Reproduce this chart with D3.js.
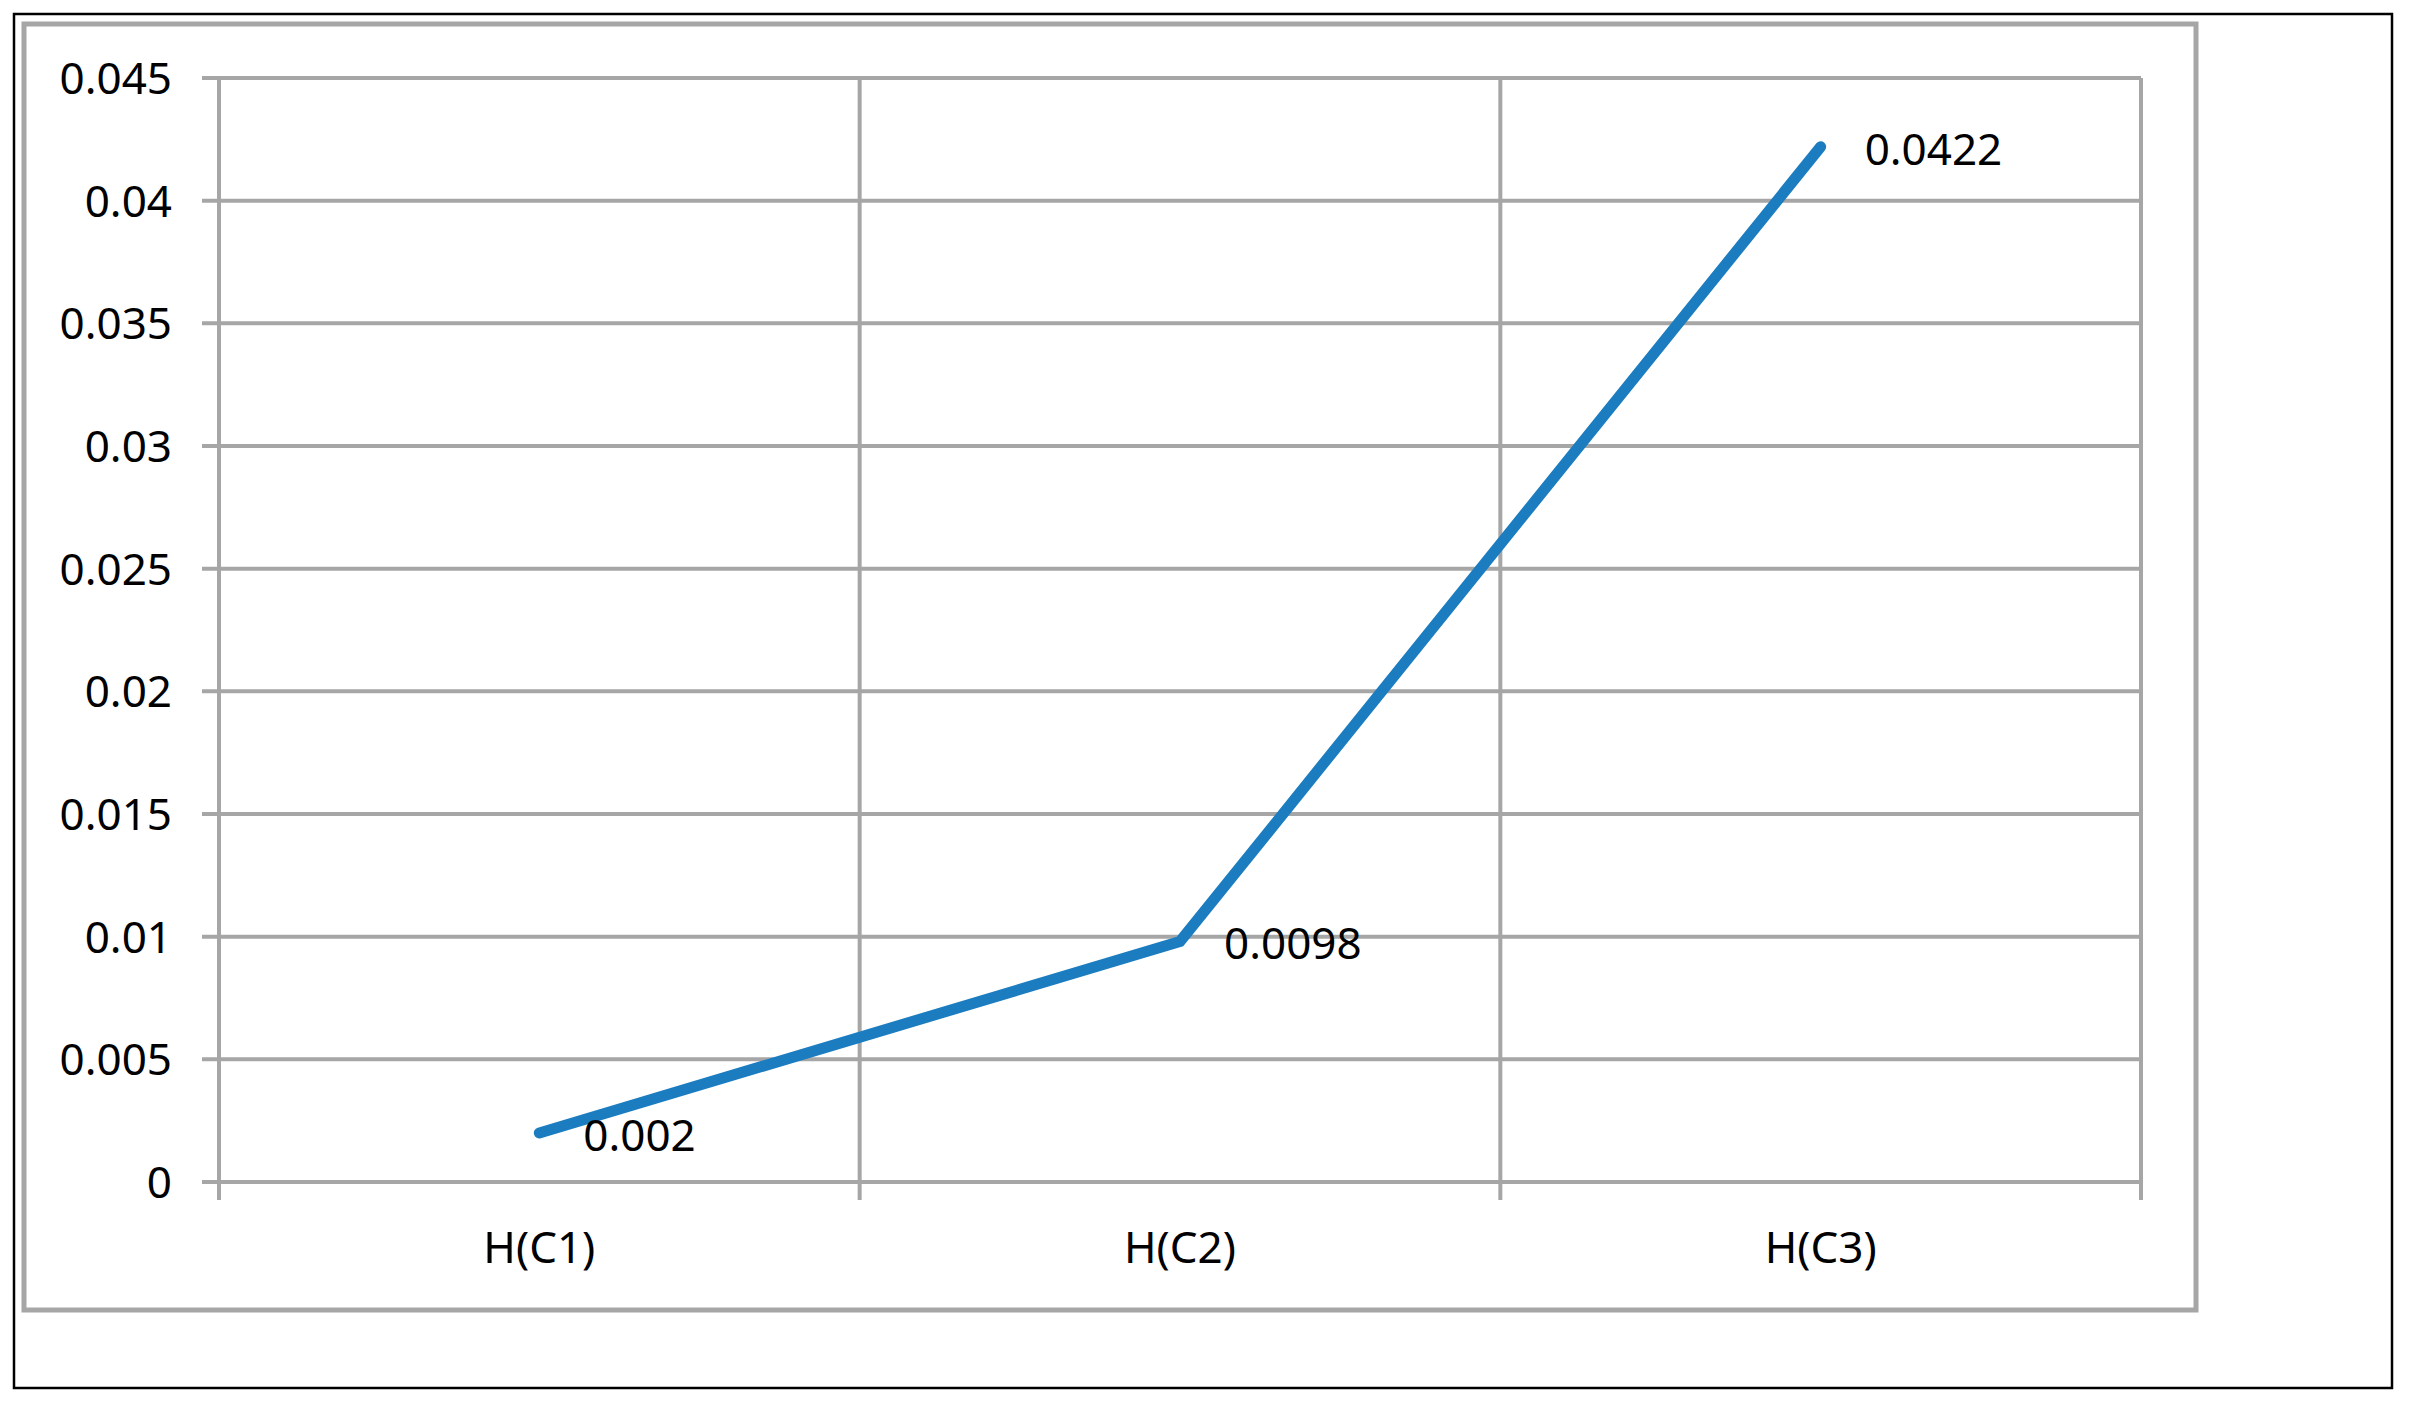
<!DOCTYPE html>
<html>
<head>
<meta charset="utf-8">
<script src="https://cdn.jsdelivr.net/npm/d3@7"></script>
<style>
  body { margin: 0; background: #fff; }
  text { font-family: "Noto Sans", sans-serif; fill: #000; }
</style>
</head>
<body>
<svg width="2414" height="1406"></svg>
<script>
// Data
var categories = ["H(C1)", "H(C2)", "H(C3)"];
var values = [0.002, 0.0098, 0.0422];
var labels = ["0.002", "0.0098", "0.0422"];
var yTicks = [0, 0.005, 0.01, 0.015, 0.02, 0.025, 0.03, 0.035, 0.04, 0.045];

var svg = d3.select("svg");
var grid = "#a6a6a6";

// outer frame + chart frame
svg.append("rect")
  .attr("x", 14).attr("y", 14)
  .attr("width", 2378).attr("height", 1374)
  .attr("fill", "none").attr("stroke", "#000").attr("stroke-width", 2.5);

svg.append("rect")
  .attr("x", 24).attr("y", 24)
  .attr("width", 2172).attr("height", 1286)
  .attr("fill", "none").attr("stroke", grid).attr("stroke-width", 5);

// Scales (plot area edges)
var plotL = 219, plotR = 2141, plotT = 78, plotB = 1182;

var x = d3.scaleBand()
  .domain(categories)
  .range([plotL, plotR]);

var y = d3.scaleLinear()
  .domain([0, 0.045])
  .range([plotB, plotT]);

// horizontal gridlines (with tick stubs on the left)
svg.append("g")
  .selectAll("line")
  .data(yTicks)
  .enter()
  .append("line")
    .attr("x1", plotL - 17)
    .attr("x2", plotR)
    .attr("y1", function (d) { return y(d); })
    .attr("y2", function (d) { return y(d); })
    .attr("stroke", grid)
    .attr("stroke-width", 4);

// vertical gridlines at band edges (tick stubs below)
var edges = categories.map(function (c) { return x(c); }).concat([plotR]);
svg.append("g")
  .selectAll("line")
  .data(edges)
  .enter()
  .append("line")
    .attr("x1", function (d) { return d; })
    .attr("x2", function (d) { return d; })
    .attr("y1", plotT)
    .attr("y2", plotB + 18)
    .attr("stroke", grid)
    .attr("stroke-width", 4);

// y tick labels
svg.append("g")
  .selectAll("text")
  .data(yTicks)
  .enter()
  .append("text")
    .attr("x", 172)
    .attr("y", function (d) { return y(d); })
    .attr("dy", "0.36em")
    .attr("text-anchor", "end")
    .attr("font-size", 44)
    .text(function (d) { return d3.format("~g")(d); });

// x labels
svg.append("g")
  .selectAll("text")
  .data(categories)
  .enter()
  .append("text")
    .attr("x", function (d) { return x(d) + x.bandwidth() / 2; })
    .attr("y", 1263)
    .attr("text-anchor", "middle")
    .attr("font-size", 44)
    .text(function (d) { return d; });

// the line
var line = d3.line()
  .x(function (d, i) { return x(categories[i]) + x.bandwidth() / 2; })
  .y(function (d) { return y(d); });

svg.append("path")
  .datum(values)
  .attr("d", line)
  .attr("fill", "none")
  .attr("stroke", "#1b7dc0")
  .attr("stroke-width", 11)
  .attr("stroke-linecap", "round")
  .attr("stroke-linejoin", "miter");

// data labels
svg.append("g")
  .selectAll("text")
  .data(values)
  .enter()
  .append("text")
    .attr("x", function (d, i) { return x(categories[i]) + x.bandwidth() / 2 + 44; })
    .attr("y", function (d) { return y(d) + 2; })
    .attr("dy", "0.36em")
    .attr("font-size", 44)
    .text(function (d, i) { return labels[i]; });
</script>
</body>
</html>
